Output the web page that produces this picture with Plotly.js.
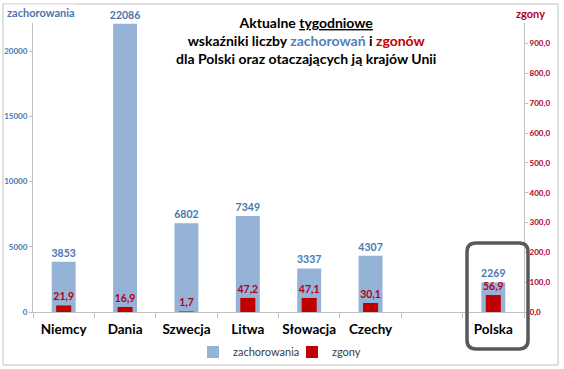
<!DOCTYPE html>
<html>
<head>
<meta charset="utf-8">
<script src="https://cdn.plot.ly/plotly-3.0.1.min.js"></script>
<style>html,body{margin:0;padding:0;background:#fff;}#chart{width:564px;height:369px;}</style>
</head>
<body>
<div id="chart"></div>
<script>
const countries = ['Niemcy', 'Dania', 'Szwecja', 'Litwa', 'Słowacja', 'Czechy', ' ', 'Polska'];
const cases = [3853, 22086, 6802, 7349, 3337, 4307, null, 2269];
const deaths = [21.9, 16.9, 1.7, 47.2, 47.1, 30.1, null, 56.9];
const caseTickVals = [0, 5000, 10000, 15000, 20000];
const deathTickVals = [0, 100, 200, 300, 400, 500, 600, 700, 800, 900];

const W = 564, H = 369;
const M = {l: 33, r: 40, t: 23, b: 57, autoexpand: false};
const pw = W - M.l - M.r, ph = H - M.t - M.b;
const px = x => (x - M.l) / pw;
const py = y => (H - M.b - y) / ph;

const FONT = 'Lato, "Open Sans", "Liberation Sans", sans-serif';
const BLUE_TXT = '#4a76ad';
const RED_TXT = '#b0001c';

function roundRect(x0, y0, x1, y1, r) {
  const rx = r / pw, ry = r / ph;
  const a = px(x0), b = px(x1), top = py(y0), bot = py(y1);
  return `M ${a + rx},${top} L ${b - rx},${top} Q ${b},${top} ${b},${top - ry} ` +
         `L ${b},${bot + ry} Q ${b},${bot} ${b - rx},${bot} ` +
         `L ${a + rx},${bot} Q ${a},${bot} ${a},${bot + ry} ` +
         `L ${a},${top - ry} Q ${a},${top} ${a + rx},${top} Z`;
}

const traces = [
  {
    type: 'bar', name: 'zachorowania', x: countries, y: cases, yaxis: 'y',
    width: 0.39, marker: {color: '#95b3d7'},
    texttemplate: '%{y:d}', textposition: 'outside', cliponaxis: false, constraintext: 'none',
    textfont: {family: FONT, size: 10.5, color: BLUE_TXT, weight: 'bold'},
    hoverinfo: 'skip'
  },
  {
    type: 'bar', name: 'zgony', x: countries, y: deaths, yaxis: 'y2',
    width: 0.245, marker: {color: '#c00000'},
    texttemplate: '%{y:.1f}', textposition: 'outside', cliponaxis: false, constraintext: 'none',
    textfont: {family: FONT, size: 10.5, color: RED_TXT, weight: 'bold'},
    hoverinfo: 'skip'
  }
];

const layout = {
  width: W, height: H,
  margin: M,
  separators: ', ',
  paper_bgcolor: '#ffffff', plot_bgcolor: '#ffffff',
  font: {family: FONT},
  barmode: 'overlay',
  showlegend: true,
  legend: {
    orientation: 'h', x: px(193), xanchor: 'left', y: py(352), yanchor: 'middle',
    bgcolor: 'rgba(0,0,0,0)',
    font: {family: FONT, size: 11, color: '#404040'}, traceorder: 'normal',
    itemwidth: 30, entrywidth: 54, entrywidthmode: 'pixels'
  },
  xaxis: {
    type: 'category', showgrid: false, zeroline: false,
    showline: true, linecolor: '#bfbfbf', linewidth: 1,
    ticks: 'outside', tickson: 'boundaries', ticklen: 5, tickcolor: '#bfbfbf',
    tickangle: 0, ticklabelstandoff: 5,
    tickfont: {family: FONT, size: 13.5, color: '#000000', weight: 'bold'},
    fixedrange: true
  },
  yaxis: {
    range: [0, 22146], showgrid: false, zeroline: false,
    showline: true, linecolor: '#bfbfbf', linewidth: 1,
    ticks: 'outside', ticklen: 3, tickcolor: '#bfbfbf',
    tickvals: caseTickVals, tickformat: 'd',
    tickfont: {family: FONT, size: 8, color: BLUE_TXT, weight: 'bold'},
    fixedrange: true
  },
  yaxis2: {
    range: [0, 969], overlaying: 'y', side: 'right', showgrid: false, zeroline: false,
    showline: true, linecolor: '#bfbfbf', linewidth: 1,
    ticks: 'outside', ticklen: 3, tickcolor: '#bfbfbf',
    tickvals: deathTickVals, tickformat: '.1f',
    tickfont: {family: FONT, size: 8, color: RED_TXT, weight: 'bold'},
    fixedrange: true
  },
  annotations: [
    {
      xref: 'paper', yref: 'paper', x: px(306), y: py(40), xanchor: 'center', yanchor: 'middle',
      showarrow: false, align: 'center',
      text: '<b>Aktualne <u>tygodniowe</u><br>wskaźniki liczby <span style="color:#4f81bd">zachorowań</span> i <span style="color:#c00000">zgonów</span><br>dla Polski oraz otaczających ją krajów Unii</b>',
      font: {family: FONT, size: 14, color: '#000000'}
    },
    {
      xref: 'paper', yref: 'paper', x: px(5), y: py(13), xanchor: 'left', yanchor: 'middle',
      showarrow: false, text: '<b>zachorowania</b>', bgcolor: '#ffffff',
      font: {family: FONT, size: 11, color: BLUE_TXT}
    },
    {
      xref: 'paper', yref: 'paper', x: px(530), y: py(14), xanchor: 'center', yanchor: 'middle',
      showarrow: false, text: '<b>zgony</b>',
      font: {family: FONT, size: 11, color: RED_TXT}
    }
  ],
  shapes: [
    {type: 'rect', xref: 'paper', yref: 'paper', x0: px(3), x1: px(558), y0: py(365), y1: py(4),
     line: {color: '#c0c0c0', width: 1}, layer: 'below'},
    {type: 'path', xref: 'paper', yref: 'paper', path: roundRect(467, 243, 528, 349, 9),
     line: {color: '#595959', width: 3.5}}
  ]
};

Plotly.newPlot('chart', traces, layout, {staticPlot: true, displayModeBar: false});
</script>
</body>
</html>
